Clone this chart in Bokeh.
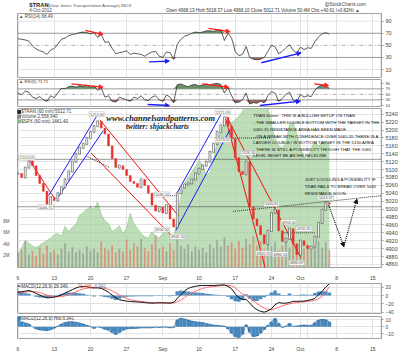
import numpy as np
from bokeh.plotting import figure
from bokeh.layouts import column
from bokeh.models import Range1d, LinearAxis, FixedTicker, Grid, Arrow, NormalHead
from bokeh.core.properties import value
from bokeh.embed import file_html
from bokeh.resources import INLINE

FONT = "Liberation Sans"

# ---------------- data ----------------
x_tick_pos = [0, 5, 10, 15, 20, 25, 30, 35, 39, 44, 49]
x_tick_lab = ["6", "13", "20", "27", "Sep", "10", "17", "24", "Oct", "8", "15"]
t = [i * 0.5 for i in range(87)]

close = [5090, 5080, 5105, 5122, 5110, 5085, 5065, 5045, 5012, 5030,
         5022, 5040, 5055, 5075, 5095, 5120, 5140, 5155, 5165, 5180,
         5195, 5210, 5222, 5205, 5190, 5160, 5128, 5105, 5110, 5100,
         5085, 5070, 5065, 5055, 5075, 5060, 5040, 5010, 4995, 5005,
         4990, 5010, 4975, 4955, 5040, 5055, 5062, 5065, 5075, 5090,
         5102, 5110, 5120, 5145, 5165, 5195, 5212, 5232, 5210, 5178,
         5130, 5095, 5088, 5120, 5005, 4975, 4958, 4935, 4912, 4945,
         4990, 4998, 4945, 4918, 4925, 4950, 4912, 4885, 4920, 4908,
         4900, 4905, 4930, 4965, 4998, 5016, 5012.71]

volume_m = [2.5, 3.0, 4.5, 2.2, 2.8, 2.0, 3.5, 2.4, 3.8, 2.6,
            3.0, 2.2, 3.2, 4.2, 2.8, 3.5, 2.6, 3.0, 2.4, 3.6,
            2.8, 3.2, 2.6, 4.5, 3.4, 3.0, 3.8, 2.6, 3.2, 2.8,
            4.8, 3.0, 4.2, 3.6, 5.0, 3.4, 2.8, 4.0, 5.5, 3.2,
            3.6, 2.8, 4.2, 3.0, 5.0, 3.8, 3.2, 4.0, 2.8, 3.6,
            3.0, 3.4, 2.6, 4.0, 3.2, 4.8, 3.6, 5.2, 3.8, 4.4,
            3.2, 4.6, 3.4, 5.0, 4.0, 5.4, 3.8, 4.6, 3.2, 4.0,
            3.6, 4.4, 3.0, 3.8, 4.6, 3.4, 5.0, 3.6, 4.2, 3.2,
            3.8, 3.0, 4.0, 4.6, 3.4, 4.4, 3.0]

spx = [1391.6, 1395.5, 1399.5, 1398, 1396.5, 1395.5, 1397, 1398.2, 1399.5, 1400.7,
       1402.5, 1403.2, 1401.7, 1407, 1404.2, 1406.5, 1408, 1413, 1414.4, 1416,
       1417.4, 1415.9, 1419.9, 1413.3, 1410, 1408.5, 1404.2, 1405.5, 1407.3, 1403.2,
       1406, 1414, 1408.3, 1406, 1403.2, 1401.5, 1400.7, 1404.2, 1402, 1400.7,
       1403.2, 1405.5, 1402.5, 1401, 1410.8, 1423, 1430, 1433, 1436, 1439,
       1442.2, 1440, 1434, 1436, 1442.5, 1452, 1458, 1462, 1463.9, 1462.4,
       1464, 1465.6, 1468.5, 1472, 1472, 1472, 1472, 1472, 1472, 1471,
       1461.4, 1453.8, 1449.8, 1448.8, 1451.3, 1461.4, 1462.4, 1456.4, 1448.8, 1444.7,
       1442.7, 1448.8, 1452.3, 1449.8, 1451.3, 1452.3, 1451.3]

rsi14 = [61, 60, 59, 57, 49, 44, 41, 39, 35, 42,
         45, 52, 60, 62, 66, 68, 69, 71, 72, 71,
         69, 71, 63, 68, 55, 56, 45, 36, 38, 39,
         41, 35, 37, 36, 35, 32, 36, 39, 40, 32,
         30, 39, 38, 27, 52, 60, 65, 67, 70, 72,
         71, 72, 74, 74, 73, 75, 76, 58, 70, 62,
         40, 33, 35, 48, 30, 27, 26, 27, 30, 40,
         50, 48, 36, 40, 46, 51, 42, 37, 47, 43,
         46, 45, 56, 64, 69, 71, 68.49]

rsi5 = [55, 48, 62, 58, 40, 35, 42, 30, 25, 45,
        38, 55, 72, 70, 78, 80, 76, 82, 78, 84,
        76, 80, 65, 72, 40, 45, 25, 22, 40, 35,
        30, 25, 40, 35, 45, 30, 28, 40, 45, 30,
        25, 48, 40, 20, 85, 88, 82, 78, 84, 86,
        80, 84, 88, 85, 88, 90, 86, 55, 75, 45,
        20, 22, 30, 55, 15, 20, 18, 25, 20, 45,
        60, 55, 25, 35, 50, 58, 30, 22, 50, 40,
        45, 42, 65, 78, 85, 82, 71.71]

macd = [8, 9, 10.5, 12, 9, 5, 1, -3, -5.6, -5,
        -4, -1.5, 1, 6, 10, 14, 18, 21, 21.6, 21.6,
        19, 18, 18.4, 17, 13, 8, 1, -5, -10.4, -12,
        -13.5, -14.4, -15, -15.5, -16, -17, -18, -18.4, -18, -17.6,
        -17.6, -18, -18.4, -16.5, -7, 2, 11, 17, 20, 22,
        23.5, 24, 24, 24, 24, 24.5, 25, 25.6, 22, 16,
        4, -5, -10, -9, -18, -28, -34, -38, -40, -37,
        -32, -22, -17, -18.4, -18.4, -17, -14, -14, -13.6, -13.6,
        -12, -10, -7, 2, 10, 20, 28.35]

signal = [6, 7, 8, 9.5, 10, 9, 7, 4, 1, -1.5,
          -3, -3, -2.5, -1, 2, 5, 9, 12.5, 15.5, 17.5,
          18.5, 19, 19, 18.5, 17, 15, 11, 6.5, 1.5, -3,
          -7, -10, -12, -13.5, -14.5, -15.5, -16.5, -17, -17.5, -17.5,
          -17.5, -17.6, -17.8, -17.5, -15, -11, -5, 1, 6, 10,
          14, 17, 19, 20.5, 21.5, 22.5, 23.5, 24, 24.5, 23,
          18, 11, 3, -1, -6, -12, -19, -25, -30, -33,
          -34, -32, -28, -25, -22, -20, -18.5, -17, -16, -15,
          -14, -13, -11.5, -8, -2, 8, 21.4]

hist = [10.5, 7, 5.5, 4, 0, -3, -4.5, -5, -5.5, -4,
        -2, 1, 4, 6, 7, 7, 6.5, 5.5, 4, 2,
        0.5, -2.5, 0, -1.5, -3.5, -5, -8, -11, -8, -5,
        -3, -2.5, -2.5, -2, -1.5, -1.5, -1.5, -1.5, -0.5, -1,
        -0.5, -0.5, -1.5, -1, 10, 12, 11, 9.5, 8, 7,
        6.5, 6, 4.5, 3.5, 2.5, 2, 1.5, 1, -3, -9,
        -14, -15, -11, 3, -8, -14, -13, -9, -4, 2,
        7, 12, 5, -1, 1, 5, 0.5, 1, 2, 2.5,
        2, 2, 6, 9.5, 10.5, 10, 6.94]

# author's trendlines (t, price)
chan_x0 = [1.5, 4.23, 5.37, 11.3, 10.1, 22.0, 21.8, 28.8, 28.7]
chan_y0 = [5126, 5034, 5026, 5226, 5142, 5042, 4946, 5234, 5228]
chan_x1 = [4.92, 10.83, 11.75, 22.2, 21.3, 28.1, 29.3, 39.1, 34.2]
chan_y1 = [5030, 5234, 5198, 4982, 4931, 5242, 5202, 4876, 4847]
chan_col = ["#ee1111", "#1a1aff", "#1a1aff", "#ee1111", "#ee1111",
            "#1a1aff", "#1a1aff", "#ee1111", "#ee1111"]

dot_x0 = [-0.07, -0.07, 27.2, 18.8, 36.5, 29.7, 9.47]
dot_x1 = [50.2, 50.2, 35.0, 22.0, 41.0, 50.2, 12.6]
dot_y0 = [5126, 5006, 5180, 5034, 4940, 4994, 5134]
dot_y1 = [5126, 5006, 5180, 5034, 4940, 5034, 5106]

proj_t = [42.9, 45.0, 46.8]
proj_p = [5010, 4905, 5025]

lab_t = [1.2, 10.9, 3.8, 28.3, 19.9, 19.9, 22.1, 28.3, 31.8, 35.0, 33.9, 36.2, 37.4, 39.5, 38.5, 42.5]
lab_p = [5130, 5240, 5005, 5245, 5037, 4948, 4930, 5175, 5142, 5013, 4888, 4886, 4967, 4950, 4864, 5029]
lab_txt = ["5124.09", "5253.30", "5006.71", "5271.09", "5039.24", "4956.50", "4941.10", "5179.42",
           "5126.50", "5005.81", "4905.70", "4896.54", "4954.00", "4932.81", "4880.87", "5018.37"]

note1 = ["TRAN 60min : THIS IS A BULLISH SETUP ON TRAN",
         " - THE SMALLER DOUBLE BOTTOM WITH THE TARGET IN THE",
         " 5065.35 RESISTANCE AREA HAS BEEN MADE",
         " - ON A BREAK WITH CONFIDENCE OVER 5065.35 THERE IS A",
         " LARGER DOUBLE / W BOTTOM TARGET IN THE 5130 AREA",
         " - THERE IS STILL A POSSIBILITY THOUGH THAT THE 5065",
         " LEVEL MIGHT BE AN IHS NECKLINE"]
note2 = ["JUST DOODLING A POSSIBILITY IF",
         "TRAN FAILS TO BREAK OVER 5082",
         "RESISTANCE SOON"]

XMIN, XMAX = -0.07, 50.2
GRID = "#e3e3e3"


def panel(height, yr, top, bottom, yticks, fs="5.5px"):
    p = figure(width=400, height=height, x_range=Range1d(XMIN, XMAX), y_range=Range1d(*yr),
               output_backend="svg", toolbar_location=None, x_axis_location=None,
               y_axis_location="right", min_border_left=14, min_border_right=18,
               min_border_top=top, min_border_bottom=bottom, title=None)
    p.outline_line_color = "#a0a0a0"
    p.border_fill_color = "white"
    ax = p.yaxis[0]
    ax.ticker = FixedTicker(ticks=yticks)
    ax.axis_line_color = None
    ax.major_tick_line_color = "#999999"
    ax.major_tick_out = 2
    ax.major_tick_in = 0
    ax.minor_tick_line_color = None
    ax.major_label_text_font_size = fs
    ax.major_label_text_font = FONT
    ax.major_label_text_color = "#444444"
    ax.major_label_standoff = 2
    p.ygrid.grid_line_color = GRID
    p.add_layout(Grid(dimension=0, ticker=FixedTicker(ticks=x_tick_pos), grid_line_color=GRID))
    return p


def add_xaxis(p):
    xa = LinearAxis(ticker=FixedTicker(ticks=x_tick_pos),
                    major_label_overrides={k: v for k, v in zip(x_tick_pos, x_tick_lab)})
    xa.axis_line_color = None
    xa.major_tick_line_color = None
    xa.minor_tick_line_color = None
    xa.major_label_text_font_size = "5px"
    xa.major_label_text_font = FONT
    xa.major_label_text_color = "#444444"
    xa.major_label_standoff = 1
    p.add_layout(xa, "below")


def txt(p, x, y, s, size="4.5px", color="#333333", align="left", style="normal", font=FONT, **kw):
    p.text(x=x, y=y, text=s, text_font=value(font), text_font_size=size, text_color=color,
           text_align=align, text_baseline="middle", text_font_style=style, **kw)


ta = np.array(t)

# ---------------- header ----------------
h = figure(width=400, height=12, x_range=Range1d(0, 400), y_range=Range1d(12, 0),
           output_backend="svg", toolbar_location=None, x_axis_location=None,
           y_axis_location=None, min_border=0, title=None)
h.outline_line_color = None
h.xgrid.grid_line_color = None
h.ygrid.grid_line_color = None
txt(h, [13], [4.3], ["$TRAN"], size="5.8px", color="#222222", style="bold")
txt(h, [34], [4.5], ["(Dow Jones Transportation Average) INDX"], size="4.4px", color="#555555")
txt(h, [13], [10.3], ["4-Oct-2012"], size="4.5px", color="#444444")
txt(h, [383], [4.2], ["@StockCharts.com"], size="4.8px", color="#444444", align="right")
txt(h, [383], [10.2], ["Open 4968.13  High 5018.37  Low 4968.10  Close 5012.71  Volume 50.4M  Chg +40.61 (+0.82%) \u25b2"],
    size="4.5px", color="#333333", align="right")

# ---------------- RSI(14) ----------------
r1 = panel(66, (-3.2, 102.7), 1, 1, [10, 30, 50, 70, 90])
r1.ygrid.grid_line_color = None
for lvl, dash, col in [(70, "solid", "#9a9a9a"), (30, "solid", "#9a9a9a"), (50, "4 2 1 2", "#b0b0b0"),
                       (90, "solid", GRID), (10, "solid", GRID)]:
    r1.segment(x0=[XMIN], x1=[XMAX], y0=[lvl], y1=[lvl], line_color=col, line_dash=dash, line_width=1)
r14 = np.array(rsi14)
r1.varea(x=ta, y1=70, y2=np.maximum(r14, 70), fill_color="#4f7f4f", fill_alpha=0.85)
r1.varea(x=ta, y1=np.minimum(r14, 30), y2=30, fill_color="#8a4f45", fill_alpha=0.85)
r1.line(ta, r14, line_color="#333333", line_width=0.8)
for (xs, ys, xe, ye, c) in [(9.29, 74.8, 11.75, 68.2, "#ff2020"), (26.3, 78.1, 29.3, 72.5, "#ff2020"),
                            (18.1, 22.8, 20.9, 24.0, "#1a1aff"), (33.6, 21.2, 39.1, 37.7, "#1a1aff")]:
    r1.add_layout(Arrow(end=NormalHead(size=4, fill_color=c, line_color=c), x_start=xs, y_start=ys,
                        x_end=xe, y_end=ye, line_color=c, line_width=1.3))
txt(r1, [0.15], [97.5], ["\u25b2 RSI(14) 68.49"], size="4.5px", color="#444444")

# ---------------- RSI(5) ----------------
r2 = panel(29, (6, 104), 1, 1, [10, 30, 50, 70, 90], fs="4.2px")
r2.ygrid.grid_line_color = None
for lvl, dash, col in [(70, "solid", "#9a9a9a"), (30, "solid", "#9a9a9a"), (50, "4 2 1 2", "#b0b0b0")]:
    r2.segment(x0=[XMIN], x1=[XMAX], y0=[lvl], y1=[lvl], line_color=col, line_dash=dash, line_width=1)
r5 = np.array(rsi5)
r2.varea(x=ta, y1=70, y2=np.maximum(r5, 70), fill_color="#4f7f4f", fill_alpha=0.85)
r2.varea(x=ta, y1=np.minimum(r5, 30), y2=30, fill_color="#8a4f45", fill_alpha=0.85)
r2.line(ta, r5, line_color="#333333", line_width=0.8)
for (xs, ys, xe, ye, c) in [(7.4, 88.4, 11.75, 76, "#ff2020"), (25.4, 88.4, 29.1, 76, "#ff2020"),
                            (40.9, 88.4, 42.9, 82, "#ff2020"),
                            (17.9, 13.3, 20.9, 9.6, "#1a1aff"), (33.4, 9.6, 39.0, 25.2, "#1a1aff")]:
    r2.add_layout(Arrow(end=NormalHead(size=4, fill_color=c, line_color=c), x_start=xs, y_start=ys,
                        x_end=xe, y_end=ye, line_color=c, line_width=1.3))
txt(r2, [0.15], [96], ["\u25b2 RSI(5) 71.71"], size="4.2px", color="#444444")

# ---------------- main price panel ----------------
m = panel(176, (4852.2, 5254.6), 1, 7, list(range(4860, 5241, 20)))
m.extra_y_ranges = {"vol": Range1d(-0.083, 27.917), "spx": Range1d(1385, 1470)}
va = LinearAxis(y_range_name="vol", ticker=FixedTicker(ticks=[2, 4, 6, 8]),
                major_label_overrides={2: "2M", 4: "4M", 6: "6M", 8: "8M"})
va.axis_line_color = None
va.major_tick_line_color = None
va.minor_tick_line_color = None
va.major_label_text_font_size = "4.5px"
va.major_label_text_font = FONT
va.major_label_text_color = "#555555"
va.major_label_standoff = 2
m.add_layout(va, "left")
add_xaxis(m)

m.varea(x=ta, y1=1385, y2=np.array(spx), y_range_name="spx", fill_color="#a3d09b", fill_alpha=0.7)
m.line(ta, np.array(spx), y_range_name="spx", line_color="#8cc285", line_width=0.6)

c = np.array(close, dtype=float)
o = np.concatenate([[c[0]], c[:-1]])
up = c >= o
vol_col = np.where(up, "#8c8c8c", "#e0705f")
m.vbar(x=ta, top=np.array(volume_m), bottom=0, width=0.24, y_range_name="vol",
       fill_color=vol_col, line_color=None, fill_alpha=0.65)

for x0, x1, y0, y1 in zip(dot_x0, dot_x1, dot_y0, dot_y1):
    m.segment(x0=[x0], x1=[x1], y0=[y0], y1=[y1], line_color="#333333", line_dash="1 1", line_width=1)

m.segment(x0=chan_x0, x1=chan_x1, y0=chan_y0, y1=chan_y1, line_color=chan_col, line_width=1)

body_top = np.maximum(o, c)
body_bot = np.minimum(o, c)
m.vbar(x=ta[up], top=body_top[up] + 1.5, bottom=body_bot[up] - 1.5, width=0.26,
       fill_color="white", line_color="#222222", line_width=0.5)
m.vbar(x=ta[~up], top=body_top[~up], bottom=body_bot[~up], width=0.26,
       fill_color="#e8302a", line_color="#e8302a", line_width=0.5)

for i in range(len(proj_t) - 1):
    m.add_layout(Arrow(end=NormalHead(size=4, fill_color="#111111", line_color="#111111"),
                       x_start=proj_t[i], y_start=proj_p[i], x_end=proj_t[i + 1], y_end=proj_p[i + 1],
                       line_color="#111111", line_dash="1 1", line_width=1.2))

m.text(x=lab_t, y=lab_p, text=lab_txt, text_font=value(FONT), text_font_size="3.8px",
       text_color="#555555", text_align="center", text_baseline="middle",
       background_fill_color="white", background_fill_alpha=0.9,
       border_line_color="#b0b0b0", border_line_width=0.5, padding=1)

txt(m, [12.2], [5229.5], ["www.channelsandpatterns.com"], size="8.5px", color="#222222",
    style="bold italic", font="Liberation Serif")
txt(m, [14.9], [5209], ["twitter: shjackcharts"], size="7.5px", color="#222222",
    style="bold italic", font="Liberation Serif")

n1_y = [5237.8, 5219.4, 5201.9, 5184.4, 5167.7, 5151.6, 5136.5]
txt(m, [32.5] * len(note1), n1_y, note1, size="4.3px", color="#111111")
n2_y = [5074.3, 5057.5, 5040.7]
txt(m, [39.6] * len(note2), n2_y, note2, size="4.3px", color="#111111")

m.scatter(x=[0.15, 0.15, 0.15], y=[5246, 5234, 5222], marker="square", size=3,
          color=["#222222", "#888888", "#7fbf7f"])
txt(m, [0.45] * 3, [5246, 5234, 5222],
    ["$TRAN (60 min) 5012.71", "Volume 2,558,940", "$SPX (60 min) 1461.40"], size="4.5px", color="#444444")

# ---------------- MACD ----------------
md = panel(31, (-43.2, 28.8), 0, 1, [-40, -20, 0, 20], fs="4.8px")
md.vbar(x=ta, top=np.array(hist), bottom=0, width=0.5, fill_color="#3d7fb6", line_color=None, fill_alpha=0.9)
md.line(ta, np.array(signal), line_color="#ff6a6a", line_width=1)
md.line(ta, np.array(macd), line_color="#111111", line_width=1)
md.segment(x0=[0.0], x1=[0.35], y0=[22.8], y1=[22.8], line_color="#111111", line_width=1)
txt(md, [0.45], [22.8], ["MACD(12,26,9) 28.349,"], size="4.5px", color="#333333")
txt(md, [8.3], [22.8], ["21.408,"], size="4.5px", color="#ff4a4a")
txt(md, [10.6], [22.8], ["6.941"], size="4.5px", color="#3d7fb6")

# ---------------- MACD histogram ----------------
hs = panel(40, (-16.5, 14.5), 2, 7, [-10, 0, 10], fs="4.8px")
hs.vbar(x=ta, top=np.array(hist), bottom=0, width=0.5, fill_color="#3d7fb6", line_color=None, fill_alpha=0.95)
hs.line(ta, np.array(hist), line_color="#2b6a9e", line_width=0.7)
add_xaxis(hs)
hs.scatter(x=[0.15], y=[12.3], marker="square", size=3, color="#3d7fb6")
txt(hs, [0.45], [12.3], ["MACD(12,26,9) Hist 6.941"], size="4.5px", color="#444444")

layout = column(h, r1, r2, m, md, hs, spacing=0)
open("out.html", "w").write(file_html(layout, INLINE))
